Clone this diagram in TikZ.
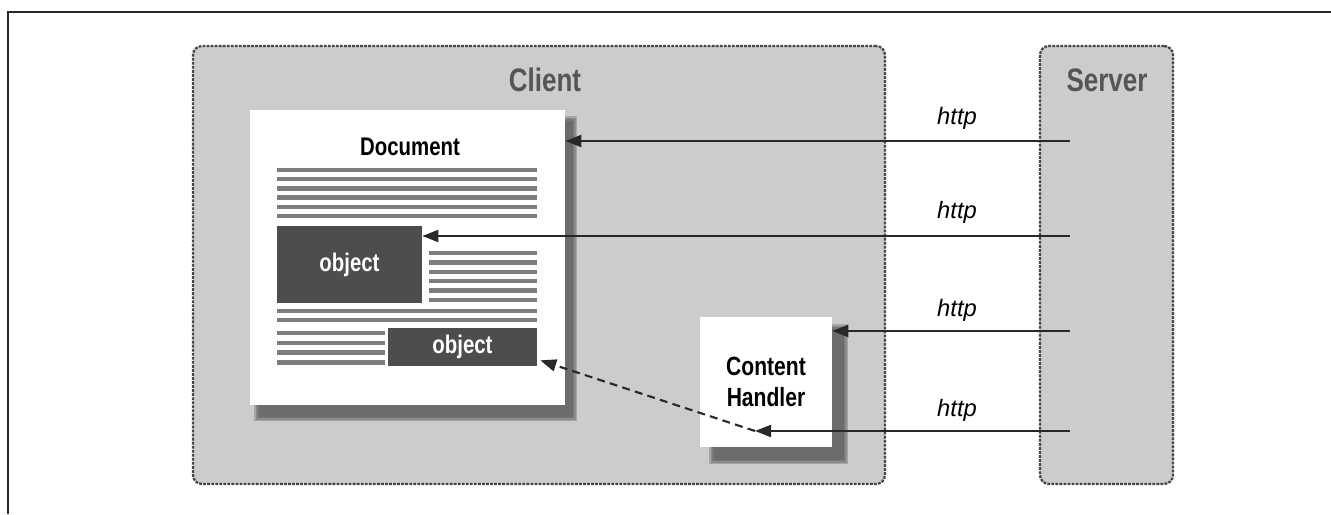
\documentclass[tikz,border=0pt]{standalone}
\usepackage{fontspec}
\newfontfamily\figfont[FakeStretch=0.8]{Liberation Sans}
\newfontfamily\httpfont{Liberation Sans}
\usetikzlibrary{arrows.meta,positioning}
\definecolor{boxgray}{RGB}{204,204,204}
\definecolor{dotgray}{RGB}{70,70,70}
\definecolor{lblgray}{RGB}{85,85,85}
\definecolor{objgray}{RGB}{77,77,77}
\definecolor{linegray}{RGB}{125,125,125}
\definecolor{shadowgray}{RGB}{80,80,80}
\definecolor{arrgray}{RGB}{40,40,40}

\begin{document}
\begin{tikzpicture}[
        x=0.02cm, y=-0.02cm,
        zone/.style={rectangle, draw=dotgray, fill=boxgray, line width=1.3pt, dash pattern=on 1.6pt off 0.7pt, rounded corners=5pt},
        zonelbl/.style={font=\figfont\bfseries\fontsize{18.5}{20}\selectfont, text=lblgray},
        page/.style={rectangle, fill=white, inner sep=0pt},
        obj/.style={rectangle, fill=objgray, text=white, inner sep=0pt, font=\figfont\bfseries\fontsize{14.5}{16}\selectfont},
        txtline/.style={linegray, line width=2.6pt},
        shade/.style={fill=shadowgray, opacity=0.3},
        req/.style={draw=arrgray, line width=1.2pt, -{Triangle[length=0.32cm,width=0.24cm]}},
        httplbl/.style={font=\httpfont\itshape\fontsize{13.5}{15}\selectfont},
    ]
        \useasboundingbox (0,0) rectangle (1331,514);
        % outer frame (only left and top visible)
        \draw[line width=1.6pt, arrgray] (8,514) -- (8,12) -- (1331,12);

        % client and server areas
        \node[zone, minimum width=13.84cm, minimum height=8.76cm] (client) at (539,265) {};
        \node[zone, minimum width=2.66cm, minimum height=8.76cm] (server) at (1106.5,265) {};
        \node[zonelbl] (clientlbl) at (545,80) {Client};
        \node[zonelbl] (serverlbl) at (1107,80) {Server};

        % soft shadows
        \foreach \d in {0,1.5,3,4.5}{
            \fill[shade] (254+\d,116+\d) rectangle (577-\d,421-\d);
            \fill[shade] (709+\d,324+\d) rectangle (848-\d,464-\d);
        }

        % document page
        \node[page, minimum width=6.3cm, minimum height=5.9cm] (doc) at (407.5,257.5) {};
        \node[font=\figfont\bfseries\fontsize{14.5}{16}\selectfont] (doclbl) at (410,147) {Document};
        \foreach \i in {0,...,5}
            \draw[txtline] (277,170+9.2*\i) -- (537,170+9.2*\i);
        \node[obj, minimum width=2.9cm, minimum height=1.54cm] (obj1) at (349.5,264.5) {object};
        \foreach \i in {0,...,5}
            \draw[txtline] (429,253+9.4*\i) -- (537,253+9.4*\i);
        \foreach \i in {0,1}
            \draw[txtline] (277,311+9.2*\i) -- (537,311+9.2*\i);
        \foreach \i in {0,...,3}
            \draw[txtline] (277,333+9.8*\i) -- (385,333+9.8*\i);
        \node[obj, minimum width=2.98cm, minimum height=0.76cm] (obj2) at (462.5,347) {object};

        % content handler
        \node[page, minimum width=2.64cm, minimum height=2.6cm, align=center,
              font=\figfont\bfseries\fontsize{15}{18}\selectfont] (handler) at (766,382) {Content\\Handler};

        % requests from the server
        \coordinate (s1) at (1070,141);
        \coordinate (s2) at (1070,236);
        \coordinate (s3) at (1070,331);
        \coordinate (s4) at (1070,431);
        \coordinate (h4) at (755,431);
        \draw[req] (s1) -- (s1 -| doc.east);
        \draw[req] (s2) -- (s2 -| obj1.east);
        \draw[req] (s3) -- (s3 -| handler.east);
        \draw[req] (s4) -- (h4);
        \draw[req, dash pattern=on 4.5pt off 3pt] (h4) -- ([shift={(3,-6)}]obj2.south east);

        \node[httplbl] (http1) at (957,118) {http};
        \node[httplbl] (http2) at (957,212) {http};
        \node[httplbl] (http3) at (957,310) {http};
        \node[httplbl] (http4) at (957,410) {http};
    \end{tikzpicture}
\end{document}
